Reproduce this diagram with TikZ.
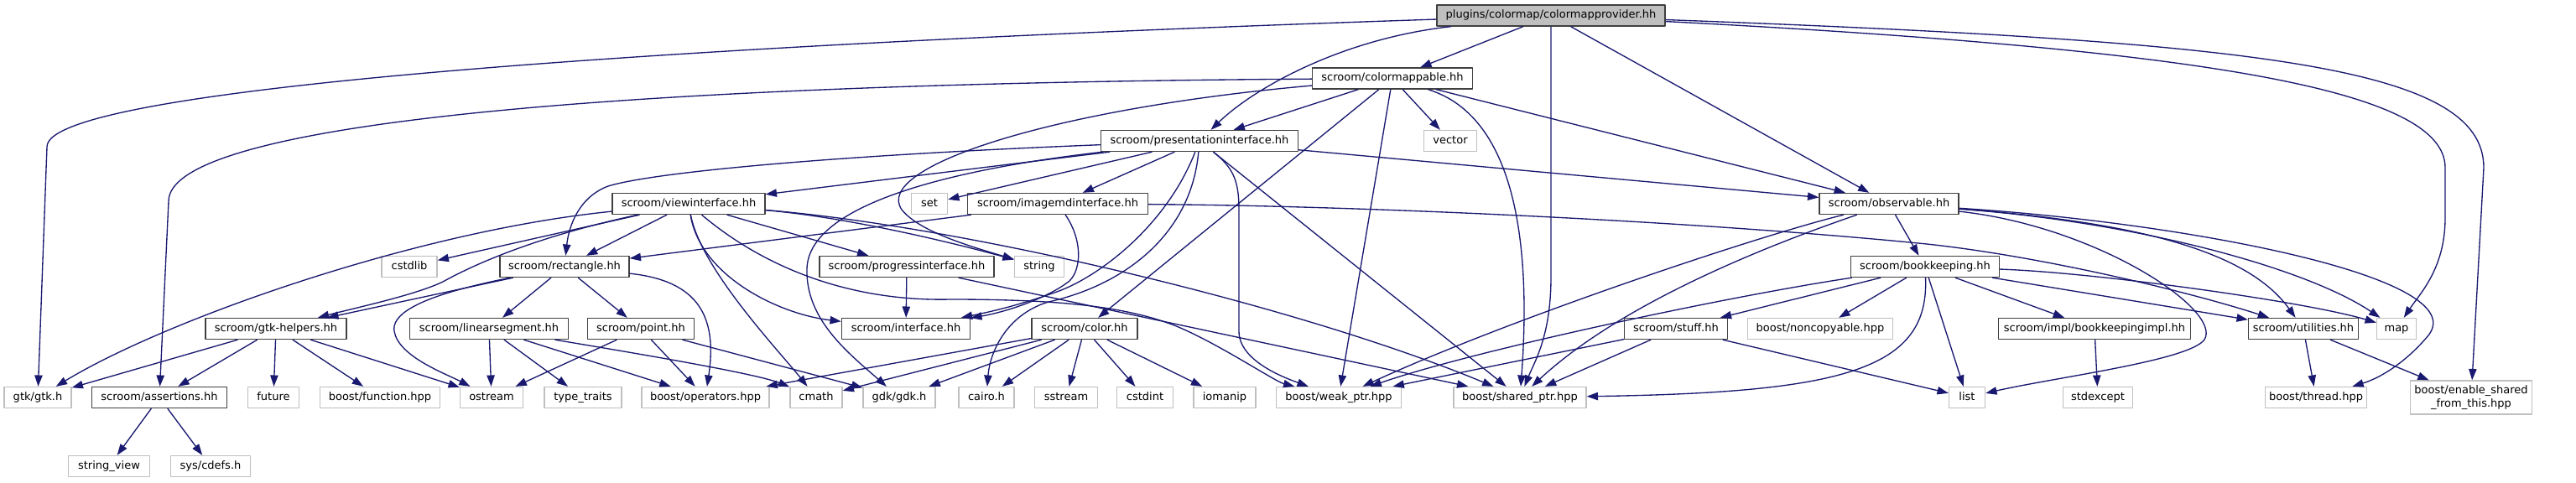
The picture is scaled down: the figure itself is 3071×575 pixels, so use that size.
\documentclass[tikz,border=0pt]{standalone}
\usepackage{fontspec}
\setmainfont{DejaVu Sans}
\usetikzlibrary{arrows.meta}
\definecolor{edgeblue}{HTML}{191970}
\definecolor{docline}{HTML}{404040}
\definecolor{extline}{HTML}{BFBFBF}
\begin{document}
\begin{tikzpicture}[x=0.75pt,y=-0.75pt,line join=round,
  every node/.style={inner sep=0pt,font=\fontsize{9.75}{12}\selectfont},
  filebox/.style={rectangle,line width=1pt,fill=white,minimum height=18.75pt,minimum width=#1*0.75pt,text height=7.2pt,text depth=2.2pt},
  docfile/.style={filebox=#1,draw=docline},
  extfile/.style={filebox=#1,draw=extline},
  rootfile/.style={filebox=#1,draw=docline,fill=extline},
  dep/.style={draw=edgeblue,line width=1pt,-{Triangle[length=10pt,width=7pt]}}]
  \path[use as bounding box,fill=white] (0,0) rectangle (3071,575);
  % 文件节点
  \node[rootfile=272] (cp) at (1849,18.5) {plugins/colormap/colormapprovider.hh};
  \node[docfile=191] (cm) at (1660,93.5) {scroom/colormappable.hh};
  \node[docfile=235] (pi) at (1430,168) {scroom/presentationinterface.hh};
  \node[extfile=63] (vector) at (1729,168) {vector};
  \node[docfile=182] (vi) at (821,243) {scroom/viewinterface.hh};
  \node[extfile=43] (set) at (1108,243) {set};
  \node[docfile=215] (imd) at (1261,243) {scroom/imagemdinterface.hh};
  \node[docfile=166] (ob) at (2252,243) {scroom/observable.hh};
  \node[extfile=66] (cstdlib) at (488,318) {cstdlib};
  \node[docfile=154] (rect) at (673,318) {scroom/rectangle.hh};
  \node[docfile=208] (prog) at (1081,318) {scroom/progressinterface.hh};
  \node[extfile=59] (string) at (1239,318) {string};
  \node[docfile=177] (bk) at (2295,318) {scroom/bookkeeping.hh};
  \node[docfile=168] (gh) at (329,392) {scroom/gtk-helpers.hh};
  \node[docfile=189] (lin) at (583,392) {scroom/linearsegment.hh};
  \node[docfile=127] (point) at (764,392) {scroom/point.hh};
  \node[docfile=153] (intf) at (1080,392) {scroom/interface.hh};
  \node[docfile=126] (colorhh) at (1293,392) {scroom/color.hh};
  \node[docfile=123] (stuff) at (1998,392) {scroom/stuff.hh};
  \node[extfile=173] (noncopy) at (2170,392) {boost/noncopyable.hpp};
  \node[docfile=229] (impl) at (2497,392) {scroom/impl/bookkeepingimpl.hh};
  \node[docfile=131] (util) at (2746,392) {scroom/utilities.hh};
  \node[extfile=47] (map) at (2857,392) {map};
  \node[extfile=80] (gtk) at (45,474) {gtk/gtk.h};
  \node[docfile=161] (assert) at (190,474) {scroom/assertions.hh};
  \node[extfile=61] (future) at (326,474) {future};
  \node[extfile=143] (func) at (453,474) {boost/function.hpp};
  \node[extfile=75] (ostream) at (586,474) {ostream};
  \node[extfile=92] (tt) at (695,474) {type\_traits};
  \node[extfile=152] (ops) at (841,474) {boost/operators.hpp};
  \node[extfile=62] (cmath) at (973,474) {cmath};
  \node[extfile=86] (gdk) at (1072,474) {gdk/gdk.h};
  \node[extfile=66] (cairo) at (1176,474) {cairo.h};
  \node[extfile=75] (sstream) at (1271,474) {sstream};
  \node[extfile=67] (cstdint) at (1365,474) {cstdint};
  \node[extfile=74] (iomanip) at (1460,474) {iomanip};
  \node[extfile=149] (weak) at (1596,474) {boost/weak\_ptr.hpp};
  \node[extfile=158] (shared) at (1812,474) {boost/shared\_ptr.hpp};
  \node[extfile=43] (list) at (2345,474) {list};
  \node[extfile=83] (stdexcept) at (2501,474) {stdexcept};
  \node[extfile=121] (thread) at (2761,474) {boost/thread.hpp};
  \node[draw=extline,line width=1pt,fill=white,minimum width=145*0.75pt,minimum height=30pt,align=center] (esft) at (2946,474) {boost/enable\_shared\\\_from\_this.hpp};
  \node[extfile=97] (sv) at (130,556) {string\_view};
  \node[extfile=95] (cdefs) at (251,556) {sys/cdefs.h};
  % colormapprovider.hh
  \draw[dep] (cp) .. controls (900,50) and (56,100) .. (56,175) -- (gtk);
  \draw[dep] (cp) -- (cm);
  \draw[dep] (cp) .. controls (1600,46) and (1495,105) .. (pi);
  \draw[dep] (cp) -- (1849,330) .. controls (1849,400) and (1830,430) .. (shared);
  \draw[dep] (cp) -- (ob);
  \draw[dep] (cp) .. controls (2650,60) and (2915,110) .. (2915,200) -- (2915,260) .. controls (2915,320) and (2885,350) .. (map);
  \draw[dep] (cp) .. controls (2700,50) and (2961,80) .. (2961,200) -- (esft);
  % colormappable.hh
  \foreach \x in {pi,vector,colorhh,weak,ob} \draw[dep] (cm) -- (\x);
  \draw[dep] (cm) .. controls (700,100) and (201,150) .. (201,240) -- (assert);
  \draw[dep] (cm) .. controls (1250,130) and (1040,200) .. (1075,250) .. controls (1095,275) and (1150,292) .. (string);
  \draw[dep] (cm) .. controls (1810,140) and (1825,300) .. (shared);
  % presentationinterface.hh
  \foreach \x in {vi,set,imd,ob,shared} \draw[dep] (pi) -- (\x);
  \draw[dep] (pi) .. controls (1000,185) and (780,205) .. (725,222) .. controls (690,235) and (678,270) .. (rect);
  \draw[dep] (pi) .. controls (1390,270) and (1310,330) .. (1260,348) .. controls (1220,362) and (1190,370) .. (intf);
  \draw[dep] (pi) .. controls (1420,280) and (1340,340) .. (1250,360) .. controls (1200,375) and (1180,420) .. (cairo);
  \draw[dep] (pi) .. controls (1150,200) and (965,240) .. (962,320) .. controls (960,380) and (1010,420) .. (gdk);
  \draw[dep] (pi) .. controls (1470,200) and (1477,215) .. (1477,250) -- (1477,395) .. controls (1477,430) and (1530,450) .. (weak);
  % viewinterface.hh
  \foreach \x in {cstdlib,rect,prog} \draw[dep] (vi) -- (\x);
  \draw[dep] (vi) .. controls (500,275) and (200,380) .. (gtk);
  \draw[dep] (vi) .. controls (650,280) and (575,310) .. (528,336) .. controls (495,352) and (420,368) .. (gh);
  \draw[dep] (vi) .. controls (835,320) and (930,420) .. (cmath);
  \draw[dep] (vi) .. controls (835,330) and (930,375) .. (intf);
  \draw[dep] (vi) .. controls (900,310) and (1000,360) .. (1133,357) .. controls (1260,357) and (1340,365) .. (1400,388) .. controls (1450,408) and (1520,455) .. (weak);
  \draw[dep] (vi) .. controls (1000,258) and (1120,285) .. (string);
  \draw[dep] (vi) .. controls (1150,270) and (1550,365) .. (shared);
  % imagemdinterface.hh, progressinterface.hh, rectangle.hh
  \draw[dep] (imd) -- (rect);
  \draw[dep] (imd) .. controls (1290,285) and (1290,320) .. (1275,335) .. controls (1250,355) and (1200,372) .. (intf);
  \draw[dep] (imd) .. controls (1600,245) and (2000,262) .. (2287,290) .. controls (2420,303) and (2600,345) .. (util);
  \draw[dep] (prog) -- (intf);
  \draw[dep] (prog) -- (shared);
  \foreach \x in {gh,lin,point} \draw[dep] (rect) -- (\x);
  \draw[dep] (rect) .. controls (540,345) and (465,365) .. (470,395) .. controls (475,425) and (530,445) .. (ostream);
  \draw[dep] (rect) .. controls (835,335) and (855,380) .. (ops);
  % 下层头文件
  \foreach \x in {gtk,assert,future,func,ostream} \draw[dep] (gh) -- (\x);
  \foreach \x in {sv,cdefs} \draw[dep] (assert) -- (\x);
  \foreach \x in {ostream,tt,ops} \draw[dep] (lin) -- (\x);
  \draw[dep] (lin) .. controls (750,420) and (900,445) .. (cmath);
  \foreach \x in {ostream,ops,gdk} \draw[dep] (point) -- (\x);
  \foreach \x in {ops,cmath,gdk,cairo,sstream,cstdint,iomanip} \draw[dep] (colorhh) -- (\x);
  % observable.hh
  \draw[dep] (ob) -- (bk);
  \draw[dep] (ob) .. controls (2100,280) and (1800,380) .. (weak);
  \draw[dep] (ob) .. controls (2130,285) and (1940,355) .. (shared);
  \draw[dep] (ob) .. controls (2500,270) and (2650,370) .. (2628,405) .. controls (2610,430) and (2450,450) .. (list);
  \draw[dep] (ob) .. controls (2550,265) and (2680,300) .. (util);
  \draw[dep] (ob) .. controls (2550,265) and (2750,320) .. (map);
  \draw[dep] (ob) .. controls (2600,265) and (2950,330) .. (2895,400) .. controls (2870,430) and (2840,450) .. (thread);
  % bookkeeping.hh
  \foreach \x in {stuff,noncopy,list,impl,util} \draw[dep] (bk) -- (\x);
  \draw[dep] (bk) .. controls (2050,355) and (1750,420) .. (weak);
  \draw[dep] (bk) .. controls (2300,440) and (2200,468) .. (shared);
  \draw[dep] (bk) .. controls (2500,325) and (2750,360) .. (map);
  \foreach \x in {weak,shared,list} \draw[dep] (stuff) -- (\x);
  \draw[dep] (impl) -- (stdexcept);
  \foreach \x in {thread,esft} \draw[dep] (util) -- (\x);
\end{tikzpicture}
\end{document}
